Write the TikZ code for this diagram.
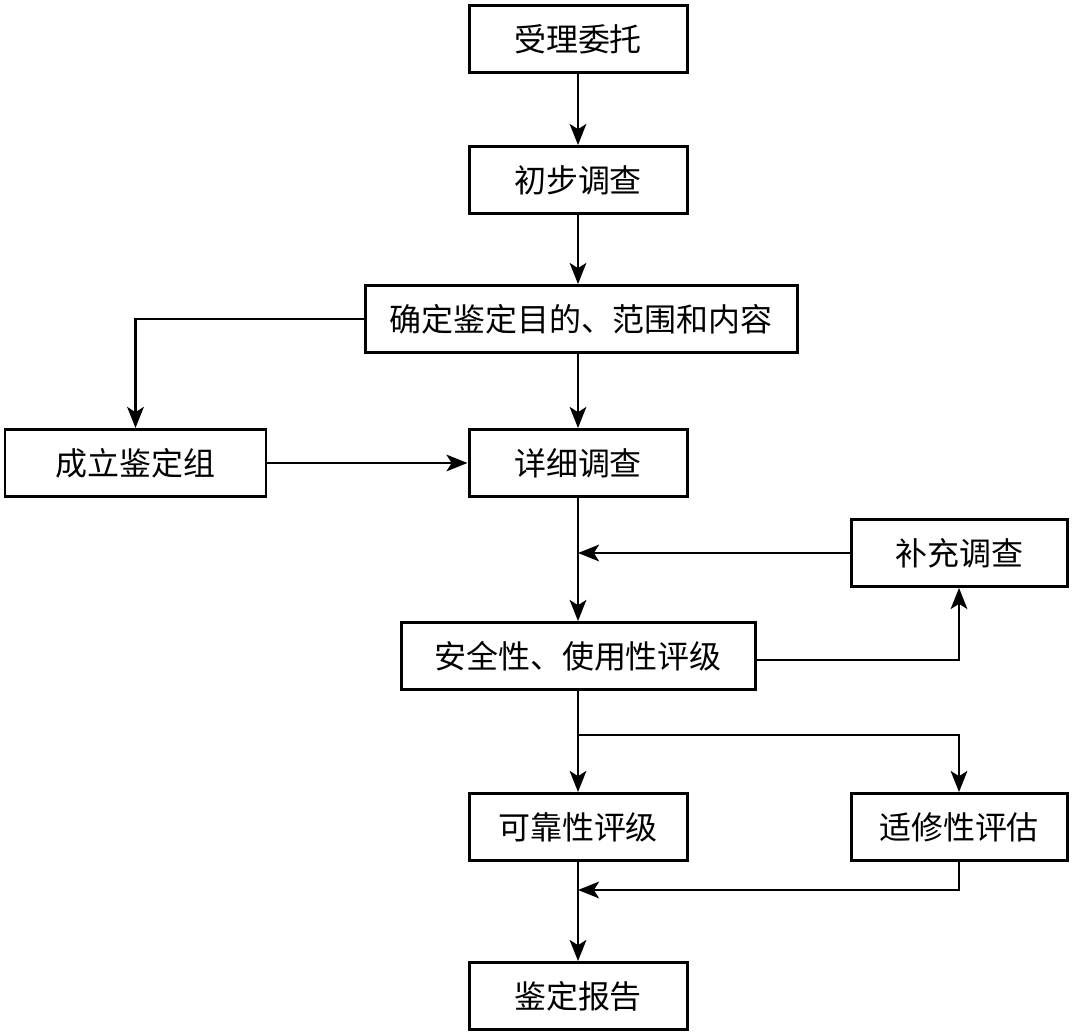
\documentclass[tikz,border=0pt]{standalone}
\usepackage{fontspec}
\newfontfamily\cjk{Noto Sans CJK SC}
\usetikzlibrary{arrows.meta}

\begin{document}
\begin{tikzpicture}
\tikzstyle{every node}=[font=\cjk\fontsize{18.2}{21}\selectfont]
\tikzstyle{box}=[draw, line width=1.7pt, minimum height=1.34cm, inner sep=0pt]
\tikzstyle{link}=[line width=1.2pt, -{Stealth[length=12pt, width=9.5pt, inset=3pt]}]
\useasboundingbox (0,0) rectangle (21.46,-20.68);
\node [box, minimum width=4.36cm] (weituo) at (11.56,-0.78) {受理委托};
\node [box, minimum width=4.36cm] (chubu) at (11.56,-3.6) {初步调查};
\node [box, minimum width=8.64cm] (queding) at (11.62,-6.38) {确定鉴定目的、范围和内容};
\node [box, minimum width=5.22cm] (chengli) at (2.71,-9.26) {成立鉴定组};
\node [box, minimum width=4.36cm] (xiangxi) at (11.56,-9.26) {详细调查};
\node [box, minimum width=4.32cm] (buchong) at (19.18,-11.06) {补充调查};
\node [box, minimum width=7.08cm] (anquan) at (11.56,-13.12) {安全性、使用性评级};
\node [box, minimum width=4.36cm] (kekao) at (11.56,-16.54) {可靠性评级};
\node [box, minimum width=4.32cm] (shixiu) at (19.18,-16.54) {适修性评估};
\node [box, minimum width=4.36cm] (baogao) at (11.56,-19.92) {鉴定报告};
\coordinate (fenzhi) at (11.56,-14.7);
\coordinate (huihe) at (11.56,-17.8);
\draw [link] (weituo) -- (chubu);
\draw [link] (chubu) -- (chubu |- queding.north);
\draw [link] (xiangxi |- queding.south) -- (xiangxi);
\draw [link] (queding.west) -| (chengli.north);
\draw [link] (chengli) -- (xiangxi);
\draw [link] (xiangxi) -- (anquan);
\draw [link] (buchong.west) -- (xiangxi.south |- buchong.west);
\draw [link] ([yshift=-0.08cm]anquan.east) -| (buchong.south);
\draw [link] (anquan) -- (kekao);
\draw [link] (fenzhi) -| (shixiu.north);
\draw [link] (kekao) -- (baogao);
\draw [link] (shixiu.south) |- (huihe);
\end{tikzpicture}
\end{document}
